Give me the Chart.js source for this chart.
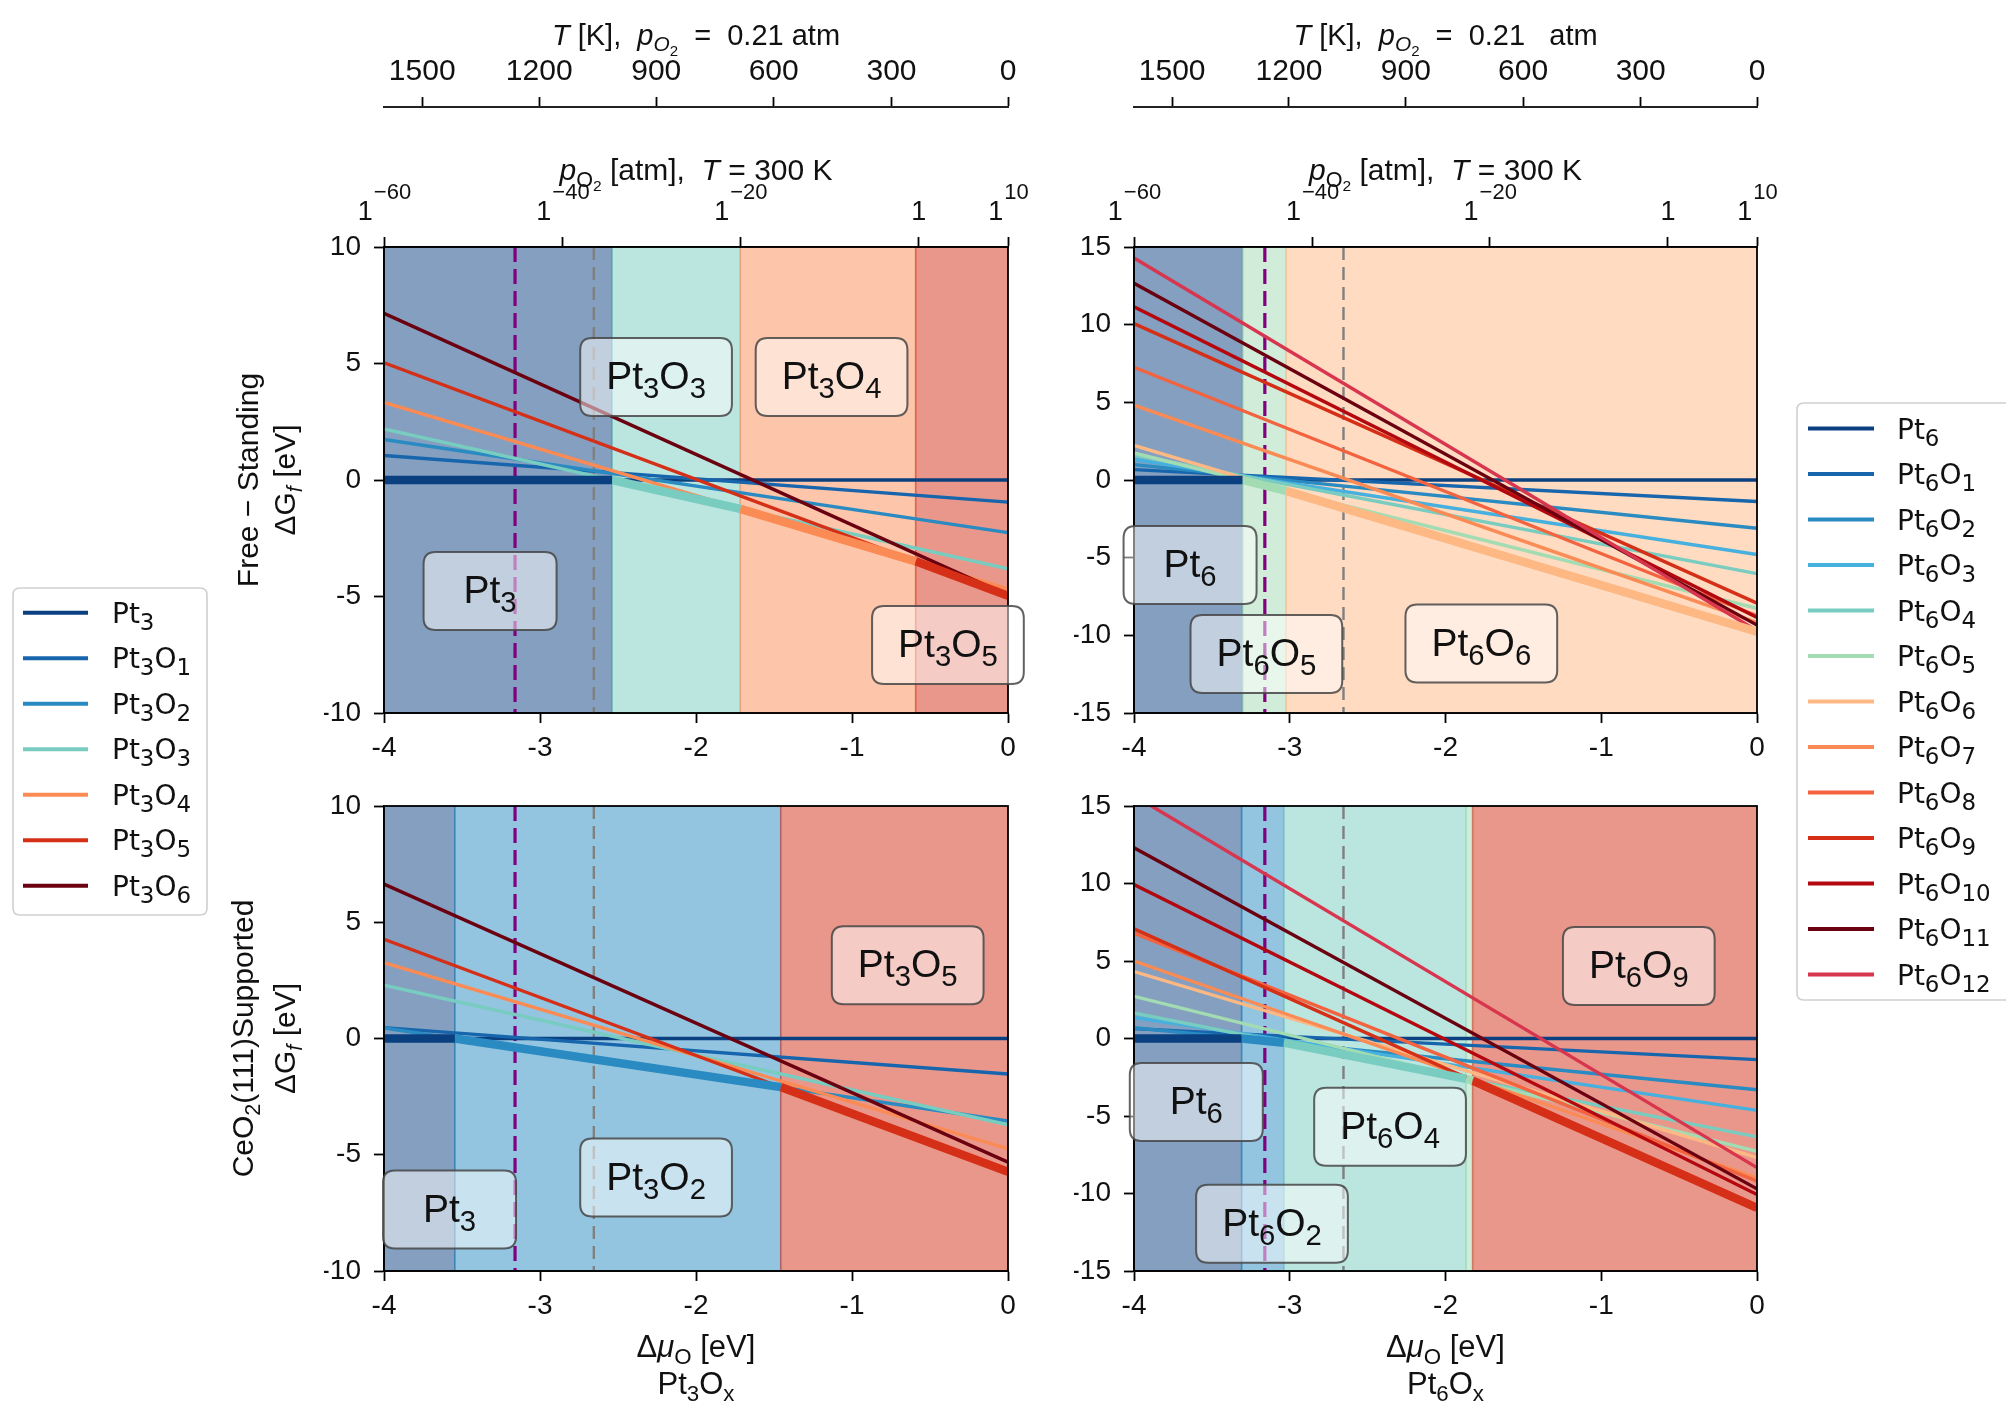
<!DOCTYPE html>
<html><head><meta charset="utf-8">
<script src="https://cdn.jsdelivr.net/npm/chart.js@4.4.1/dist/chart.umd.min.js"></script>
<style>
html,body{margin:0;padding:0;background:#fff;}
#wrap{position:relative;width:2006px;height:1408px;overflow:hidden;background:#fff;}
canvas{position:absolute;left:0;top:0;}
</style></head><body>
<div id="wrap">
<canvas id="cTL" width="2006" height="1408"></canvas>
<canvas id="cTR" width="2006" height="1408"></canvas>
<canvas id="cBL" width="2006" height="1408"></canvas>
<canvas id="cBR" width="2006" height="1408"></canvas>
</div>
<script>
// ---------------- data ----------------
const MU_ENDS = [-4, 0];                       // Δμ_O where each line was read

const PT3_NAMES = ['Pt_3','Pt_3O_1','Pt_3O_2','Pt_3O_3','Pt_3O_4','Pt_3O_5','Pt_3O_6'];
const PT6_NAMES = ['Pt_6','Pt_6O_1','Pt_6O_2','Pt_6O_3','Pt_6O_4','Pt_6O_5','Pt_6O_6',
                   'Pt_6O_7','Pt_6O_8','Pt_6O_9','Pt_6O_{10}','Pt_6O_{11}','Pt_6O_{12}'];

// Free-standing Pt3Ox: ΔG_f at Δμ=-4 and Δμ=0
const FS_PT3_AT_M4 = [0, 1.05, 1.74, 2.19, 3.33, 5.03, 7.15];
const FS_PT3_AT_0  = [0, -0.95, -2.26, -3.81, -4.67, -4.97, -4.95];
// CeO2(111)-supported Pt3Ox
const SUP_PT3_AT_M4 = [0, 0.47, 0.45, 2.29, 3.26, 4.27, 6.64];
const SUP_PT3_AT_0  = [0, -1.53, -3.55, -3.71, -4.74, -5.73, -5.32];
// Free-standing Pt6Ox
const FS_PT6_AT_M4 = [0, 0.67, 0.99, 1.32, 1.60, 1.74, 2.23, 4.82, 7.26, 10.07, 11.15, 12.66, 14.29];
const FS_PT6_AT_0  = [0, -1.38, -3.11, -4.80, -6.03, -8.26, -9.77, -9.18, -8.74, -7.93, -8.85, -9.34, -9.71];
// CeO2(111)-supported Pt6Ox
const SUP_PT6_AT_M4 = [0, 0.64, 0.69, 1.36, 1.65, 2.72, 4.32, 5.00, 6.80, 7.07, 9.93, 12.30, 15.67];
const SUP_PT6_AT_0  = [0, -1.36, -3.31, -4.64, -6.35, -7.28, -7.68, -9.00, -9.20, -10.93, -10.07, -9.70, -8.33];

// stable-phase regions: boundaries (Δμ), lower-envelope value at each boundary, phase index per region
const FS_PT3_EDGES = [-4, -2.538, -1.716, -0.592, 0];
const FS_PT3_ENV   = [0, 0, -1.24, -3.49, -4.97];
const FS_PT3_PHASE = [0, 3, 4, 5];
const SUP_PT3_EDGES = [-4, -3.546, -1.457, 0];
const SUP_PT3_ENV   = [0, 0, -2.09, -5.73];
const SUP_PT3_PHASE = [0, 2, 5];
const FS_PT6_EDGES = [-4, -3.303, -3.024, 0];
const FS_PT6_ENV   = [0, 0, -0.70, -9.77];
const FS_PT6_PHASE = [0, 5, 6];
const SUP_PT6_EDGES = [-4, -3.309, -3.038, -1.868, -1.826, 0];
const SUP_PT6_ENV   = [0, 0, -0.27, -2.61, -2.71, -10.93];
const SUP_PT6_PHASE = [0, 2, 4, 5, 9];

// region labels (phase index, Δμ, ΔG_f)
const FS_PT3_LBL = [0, 3, 4, 5];
const FS_PT3_LBL_X = [-3.32, -2.256, -1.131, -0.385];
const FS_PT3_LBL_Y = [-4.76, 4.42, 4.42, -7.08];
const SUP_PT3_LBL = [0, 2, 5];
const SUP_PT3_LBL_X = [-3.58, -2.256, -0.643];
const SUP_PT3_LBL_Y = [-7.36, -5.98, 3.15];
const FS_PT6_LBL = [0, 5, 6];
const FS_PT6_LBL_X = [-3.64, -3.15, -1.77];
const FS_PT6_LBL_Y = [-5.47, -11.2, -10.53];
const SUP_PT6_LBL = [0, 4, 2, 9];
const SUP_PT6_LBL_X = [-3.60, -2.356, -3.114, -0.759];
const SUP_PT6_LBL_Y = [-4.1, -5.7, -11.95, 4.68];

// reference Δμ lines (purple, grey dashed)
const REF_MU = [-3.16, -2.655];

// secondary axes
const T_LABELS = [1500, 1200, 900, 600, 300, 0];
const T_AT_MU  = [-3.755, -3.005, -2.255, -1.502, -0.747, 0];
const PO2_EXP   = ['\u221260', '\u221240', '\u221220', '', '10'];
const PO2_AT_MU = [-4.0, -2.856, -1.716, -0.572, 0];

// ---------------- styles ----------------
const PT3_COLORS = ['#0a3f80','#1766ad','#2a8bc2','#78ccc0','#fb8b55','#d52f17','#6b0010'];
const PT6_COLORS = ['#0a3f80','#1766ad','#2a8bc2','#46b0de','#78ccc0','#a3dcb3','#fdb884',
                    '#fb8b55','#f3633f','#d52f17','#b3080f','#6b0010','#d8354f'];
const FONT_A = '"Liberation Sans", Arial, sans-serif';
const FONT_D = '"DejaVu Sans", sans-serif';
const TXT = '#111';

// ---------------- helpers ----------------
function hexA(h, a){ const n = parseInt(h.slice(1),16); return `rgba(${(n>>16)&255},${(n>>8)&255},${n&255},${a})`; }
function parseRich(s, o){
  const runs = [];
  (function rec(str, scale, shift, italic){
    let i = 0, buf = '';
    const flush = () => { if (buf){ runs.push({t:buf, scale, shift, italic}); buf=''; } };
    while (i < str.length){
      const c = str[i];
      if (c === '_' || c === '^'){
        flush();
        let inner;
        if (str[i+1] === '{'){
          let d = 1, j = i+2;
          while (j < str.length && d > 0){ if (str[j]==='{') d++; else if (str[j]==='}') d--; j++; }
          inner = str.slice(i+2, j-1); i = j;
        } else { inner = str[i+1]; i += 2; }
        rec(inner, scale*o.ss, shift + (c==='_' ? o.drop : -o.rise)*scale, italic);
      } else if (c === '~'){ flush(); italic = !italic; i++; }
      else { buf += c; i++; }
    }
    flush();
  })(s, 1, 0, false);
  return runs;
}
function richFont(r, size, fam){ return (r.italic ? 'italic ' : '') + (size*r.scale).toFixed(2) + 'px ' + fam; }
function measureRich(ctx, s, size, fam, o){
  o = Object.assign({ss:0.72, drop:0.22, rise:0.42}, o || {});
  const runs = parseRich(s, o); let w = 0;
  runs.forEach(r => { ctx.font = richFont(r, size, fam); r.w = ctx.measureText(r.t).width; w += r.w; });
  return {runs, w};
}
function drawRich(ctx, s, x, y, size, fam, align, o){
  const m = measureRich(ctx, s, size, fam, o);
  let cx = align === 'center' ? x - m.w/2 : align === 'right' ? x - m.w : x;
  ctx.textBaseline = 'alphabetic'; ctx.textAlign = 'left';
  m.runs.forEach(r => { ctx.font = richFont(r, size, fam); ctx.fillText(r.t, cx, y + r.shift*size); cx += r.w; });
  return m.w;
}
function rrect(ctx, x, y, w, h, r){
  ctx.beginPath();
  ctx.moveTo(x+r, y); ctx.lineTo(x+w-r, y); ctx.quadraticCurveTo(x+w, y, x+w, y+r);
  ctx.lineTo(x+w, y+h-r); ctx.quadraticCurveTo(x+w, y+h, x+w-r, y+h);
  ctx.lineTo(x+r, y+h); ctx.quadraticCurveTo(x, y+h, x, y+h-r);
  ctx.lineTo(x, y+r); ctx.quadraticCurveTo(x, y, x+r, y); ctx.closePath();
}
function drawLegend(ctx, names, colors, bx, by, bw, bh, y0, step, lx0, lx1, tx){
  ctx.save();
  rrect(ctx, bx, by, bw, bh, 7);
  ctx.fillStyle = 'rgba(255,255,255,0.9)'; ctx.fill();
  ctx.strokeStyle = '#d0d0d0'; ctx.lineWidth = 1.6; ctx.stroke();
  names.forEach((n, i) => {
    const y = y0 + i*step;
    ctx.strokeStyle = colors[i]; ctx.lineWidth = 4; ctx.lineCap = 'butt';
    ctx.beginPath(); ctx.moveTo(lx0, y); ctx.lineTo(lx1, y); ctx.stroke();
    ctx.fillStyle = '#111';
    drawRich(ctx, n, tx, y + 10, 28, FONT_D, 'left', {ss:0.82, drop:0.25, rise:0.4});
  });
  ctx.restore();
}

// ---------------- panels ----------------
const PANELS = [
  {id:'cTL', names:PT3_NAMES, colors:PT3_COLORS, a:FS_PT3_AT_M4, b:FS_PT3_AT_0,
   edges:FS_PT3_EDGES, env:FS_PT3_ENV, phase:FS_PT3_PHASE, lp:FS_PT3_LBL, lx:FS_PT3_LBL_X, ly:FS_PT3_LBL_Y,
   ymax:10, area:{l:384,t:247,r:1008,b:713}, top:true, left:true, Ttitle:'~T~ [K],  ~p~_{~O~_2}  =  0.21 atm',
   ytitle:['Free \u2212 Standing','\u0394G_{~f~} [eV]'], ytx:[247,284]},
  {id:'cTR', names:PT6_NAMES, colors:PT6_COLORS, a:FS_PT6_AT_M4, b:FS_PT6_AT_0,
   edges:FS_PT6_EDGES, env:FS_PT6_ENV, phase:FS_PT6_PHASE, lp:FS_PT6_LBL, lx:FS_PT6_LBL_X, ly:FS_PT6_LBL_Y,
   ymax:15, area:{l:1134,t:247,r:1757,b:713}, top:true, left:false, Ttitle:'~T~ [K],  ~p~_{~O~_2}  =  0.21   atm'},
  {id:'cBL', names:PT3_NAMES, colors:PT3_COLORS, a:SUP_PT3_AT_M4, b:SUP_PT3_AT_0,
   edges:SUP_PT3_EDGES, env:SUP_PT3_ENV, phase:SUP_PT3_PHASE, lp:SUP_PT3_LBL, lx:SUP_PT3_LBL_X, ly:SUP_PT3_LBL_Y,
   ymax:10, area:{l:384,t:806,r:1008,b:1271}, top:false, left:true, xsub:'Pt_3O_x',
   ytitle:['CeO_2(111)Supported','\u0394G_{~f~} [eV]'], ytx:[242,284], legend:'left'},
  {id:'cBR', names:PT6_NAMES, colors:PT6_COLORS, a:SUP_PT6_AT_M4, b:SUP_PT6_AT_0,
   edges:SUP_PT6_EDGES, env:SUP_PT6_ENV, phase:SUP_PT6_PHASE, lp:SUP_PT6_LBL, lx:SUP_PT6_LBL_X, ly:SUP_PT6_LBL_Y,
   ymax:15, area:{l:1134,t:806,r:1757,b:1271}, top:false, left:false, xsub:'Pt_6O_x', legend:'right'}
];

const gridOpts = {display:true, drawOnChartArea:false, drawTicks:true, tickLength:10, tickWidth:1.8, tickColor:'#000'};
const borderOpts = {display:true, color:'#000', width:1.8};

function makeChart(P){
  const datasets = [];
  P.names.forEach((n, i) => {
    datasets.push({label:n, xAxisID:'x', yAxisID:'y',
      data: MU_ENDS.map((m, k) => ({x:m, y: k === 0 ? P.a[i] : P.b[i]})),
      borderColor:P.colors[i], borderWidth:3.4, pointRadius:0, tension:0, fill:false, order:100-i, clip:0});
  });
  P.phase.forEach((ph, k) => {
    datasets.push({label:'stable', xAxisID:'x', yAxisID:'y',
      data:[{x:P.edges[k], y:P.env[k]}, {x:P.edges[k+1], y:P.env[k+1]}],
      borderColor:P.colors[ph], borderWidth:8.5, pointRadius:0, tension:0, fill:false, order:0, clip:0, borderCapStyle:'butt'});
  });

  const scales = {
    x: {type:'linear', position:'bottom', min:-4, max:0,
        ticks:{stepSize:1, font:{family:FONT_A, size:28}, color:TXT, padding:8, maxRotation:0, autoSkip:false},
        grid:gridOpts, border:borderOpts, afterFit:s => { s.height = 60; }},
    y: {type:'linear', position:'left', min:-P.ymax, max:P.ymax,
        ticks:{stepSize:5, font:{family:FONT_A, size:28}, color:TXT, padding:13},
        grid:gridOpts, border:borderOpts, afterFit:s => { s.width = 60; }}
  };
  if (P.top){
    scales.xp = {type:'linear', position:'top', weight:0, min:-4, max:0,
      afterBuildTicks:s => { s.ticks = PO2_AT_MU.map(v => ({value:v})); },
      ticks:{display:false}, grid:gridOpts, border:borderOpts, afterFit:s => { s.height = 140; }};
    scales.xt = {type:'linear', position:'top', weight:1, min:-4, max:0,
      afterBuildTicks:s => { s.ticks = T_AT_MU.map(v => ({value:v})); },
      ticks:{callback:(v, i) => String(T_LABELS[i]), font:{family:FONT_A, size:30}, color:TXT, padding:7, maxRotation:0, autoSkip:false},
      grid:gridOpts, border:{display:true, color:'#222', width:2}, afterFit:s => { s.height = 70; }};
  }
  const A = P.area;
  const pad = {left:A.l - 60, right:2006 - A.r, top: P.top ? A.t - 210 : A.t, bottom:1408 - A.b - 60};

  const deco = {
    id:'deco_' + P.id,
    beforeDatasetsDraw(chart){
      const ctx = chart.ctx, ca = chart.chartArea, xs = chart.scales.x;
      ctx.save();
      ctx.beginPath(); ctx.rect(ca.left, ca.top, ca.right-ca.left, ca.bottom-ca.top); ctx.clip();
      P.phase.forEach((ph, k) => {
        const x0 = xs.getPixelForValue(P.edges[k]), x1 = xs.getPixelForValue(P.edges[k+1]);
        ctx.fillStyle = hexA(P.colors[ph], 0.5);
        ctx.fillRect(x0, ca.top, x1-x0, ca.bottom-ca.top);
        ctx.strokeStyle = hexA(P.colors[ph], 0.5); ctx.lineWidth = 1.5;
        ctx.strokeRect(x0, ca.top, x1-x0, ca.bottom-ca.top);
      });
      const refStyle = [{c:'#800080', w:3.2, d:[15,7]}, {c:'#808080', w:2.4, d:[13,7]}];
      REF_MU.forEach((m, k) => {
        const px = xs.getPixelForValue(m);
        ctx.strokeStyle = refStyle[k].c; ctx.lineWidth = refStyle[k].w; ctx.setLineDash(refStyle[k].d);
        ctx.beginPath(); ctx.moveTo(px, ca.top); ctx.lineTo(px, ca.bottom); ctx.stroke();
      });
      ctx.restore();
    },
    afterDatasetsDraw(chart){
      const ctx = chart.ctx, ca = chart.chartArea, xs = chart.scales.x, ys = chart.scales.y;
      ctx.save();
      ctx.strokeStyle = '#000'; ctx.lineWidth = 1.8;
      ctx.strokeRect(ca.left, ca.top, ca.right-ca.left, ca.bottom-ca.top);
      P.lp.forEach((ph, k) => {
        const cx = xs.getPixelForValue(P.lx[k]), cy = ys.getPixelForValue(P.ly[k]);
        const o = {ss:0.75, drop:0.23, rise:0.4};
        const m = measureRich(ctx, P.names[ph], 39, FONT_A, o);
        const w = Math.max(133, m.w + 52), h = 78;
        rrect(ctx, cx - w/2, cy - h/2, w, h, 12);
        ctx.fillStyle = 'rgba(255,255,255,0.5)'; ctx.fill();
        ctx.strokeStyle = 'rgba(70,70,70,0.85)'; ctx.lineWidth = 2; ctx.stroke();
        ctx.fillStyle = '#111';
        drawRich(ctx, P.names[ph], cx, cy + 12, 39, FONT_A, 'center', o);
      });
      ctx.restore();
    },
    afterDraw(chart){
      const ctx = chart.ctx, ca = chart.chartArea, xs = chart.scales.x;
      const cxm = (ca.left + ca.right)/2, cym = (ca.top + ca.bottom)/2;
      ctx.save(); ctx.fillStyle = TXT;
      if (P.top){
        drawRich(ctx, P.Ttitle, cxm, 45, 29, FONT_A, 'center');
        drawRich(ctx, '~p~_{O_2} [atm],  ~T~ = 300 K', cxm, 180, 30, FONT_A, 'center');
        PO2_AT_MU.forEach((m, k) => {
          const px = xs.getPixelForValue(m);
          ctx.textBaseline = 'alphabetic'; ctx.textAlign = 'left';
          ctx.font = '27px ' + FONT_A; const w1 = ctx.measureText('1').width;
          ctx.font = '22px ' + FONT_A; const w2 = ctx.measureText(PO2_EXP[k]).width;
          const x0 = px - (w1 + w2)/2;
          ctx.font = '27px ' + FONT_A; ctx.fillText('1', x0, 220);
          if (PO2_EXP[k]){ ctx.font = '22px ' + FONT_A; ctx.fillText(PO2_EXP[k], x0 + w1 + 1, 199); }
        });
      } else {
        drawRich(ctx, '\u0394~\u03bc~_O [eV]', cxm, 1357, 31, FONT_A, 'center');
        drawRich(ctx, P.xsub, cxm, 1394, 31, FONT_A, 'center');
      }
      if (P.left){
        P.ytitle.forEach((t, k) => {
          ctx.save(); ctx.translate(P.ytx[k], cym); ctx.rotate(-Math.PI/2);
          drawRich(ctx, t, 0, 11, 30, FONT_A, 'center');
          ctx.restore();
        });
      }
      if (P.legend === 'left'){
        drawLegend(ctx, PT3_NAMES, PT3_COLORS, 13, 588, 194, 327, 612.7, 45.5, 23, 88, 112);
      } else if (P.legend === 'right'){
        drawLegend(ctx, PT6_NAMES, PT6_COLORS, 1797, 403, 240, 597, 428.6, 45.5, 1808, 1874, 1897);
      }
      ctx.restore();
    }
  };

  return new Chart(document.getElementById(P.id), {
    type:'line',
    data:{datasets},
    options:{
      responsive:false, animation:false, devicePixelRatio:1, events:[],
      layout:{padding:pad},
      plugins:{legend:{display:false}, tooltip:{enabled:false}, title:{display:false}},
      scales
    },
    plugins:[deco]
  });
}
PANELS.forEach(makeChart);
</script>
</body></html>
